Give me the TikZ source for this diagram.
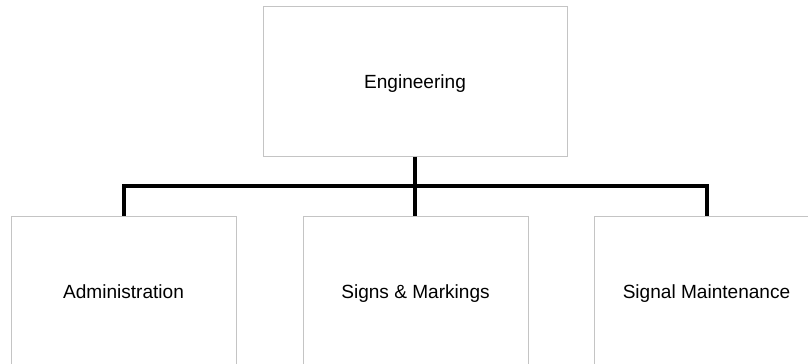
\documentclass[tikz,border=0pt]{standalone}
\usepackage{fontspec}
\setmainfont{Liberation Sans}
\definecolor{boxgray}{HTML}{C4C4C4}
\begin{document}
\begin{tikzpicture}[x=0.75pt,y=-0.75pt,
    unit/.style={draw=boxgray, fill=white, line width=0.75pt,
      minimum width=168.75pt, minimum height=112.5pt,
      text height=14.8pt, text depth=3pt,
      font=\fontsize{14.3}{17}\selectfont},
    head/.style={unit, minimum width=228pt},
    branch/.style={line width=3pt, line join=miter}]
  \useasboundingbox (0,0) rectangle (808,364);
  \clip (0,0) rectangle (808,364);
  \node[head] (eng) at (415,81) {Engineering};
  \node[unit] (adm) at (123.5,291) {Administration};
  \node[unit] (sig) at (415.5,291) {Signs \& Markings};
  \node[unit] (mnt) at (706.5,291) {Signal Maintenance};
  \coordinate (bar) at (415,186);
  % connectors
  \draw[branch] (eng.south) -- (eng.south |- sig.north);
  \draw[branch] (adm.north) |- (bar) -| (mnt.north);
\end{tikzpicture}
\end{document}
